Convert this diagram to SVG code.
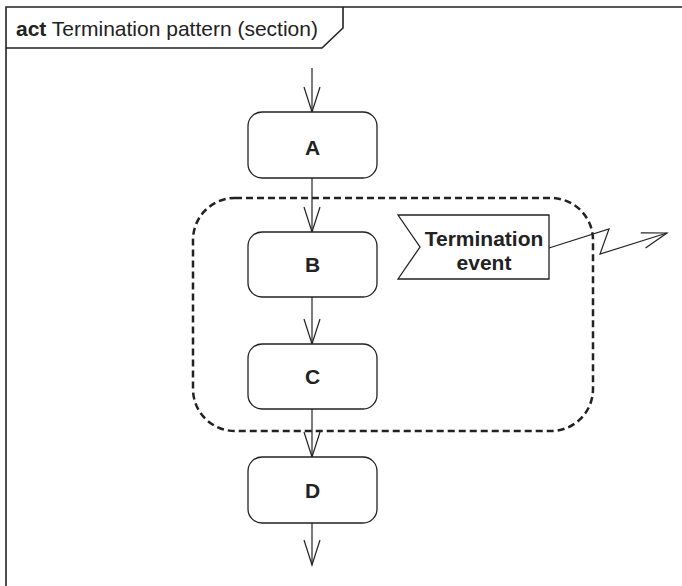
<svg xmlns="http://www.w3.org/2000/svg" width="682" height="586" viewBox="0 0 682 586">
<style>
.frame{fill:none;stroke:#222;stroke-width:1.6}
.node{fill:#fff;stroke:#222;stroke-width:1.3}
.lbl{font-family:"Liberation Sans",Arial,sans-serif;font-weight:bold;font-size:21px;fill:#222;text-anchor:middle}
.sig{font-family:"Liberation Sans",Arial,sans-serif;font-weight:bold;font-size:21px;fill:#222;text-anchor:middle}
.title{font-family:"Liberation Sans",Arial,sans-serif;font-size:21px;fill:#222}
.edge{fill:none;stroke:#222;stroke-width:1.2}
.region{fill:none;stroke:#222;stroke-width:2.5;stroke-dasharray:7 4}
</style>
<defs>
<marker id="open" markerUnits="userSpaceOnUse" markerWidth="30" markerHeight="20" viewBox="-27 -10 30 20" refX="0" refY="0" orient="auto" overflow="visible">
<path d="M-25,-8 L0,0 L-25,8" fill="none" stroke="#222" stroke-width="1.2"/>
</marker>
</defs>
<rect width="682" height="586" fill="#fff"/>
<g id="frame">
<path class="frame" d="M6,586 V7 H682"/>
<path class="frame" d="M6,48 H322 L343,28 V7"/>
<text class="title" x="16" y="36"><tspan font-weight="bold">act</tspan> Termination pattern (section)</text>
</g>
<g id="interruptible-region">
<rect class="region" x="193" y="198" width="400" height="233" rx="42" ry="42"/>
</g>
<g id="connectors">
<line class="edge" x1="312" y1="68" x2="312" y2="112" marker-end="url(#open)"/>
<line class="edge" x1="312" y1="178" x2="312" y2="232" marker-end="url(#open)"/>
<line class="edge" x1="312" y1="297" x2="312" y2="344" marker-end="url(#open)"/>
<line class="edge" x1="312" y1="409" x2="312" y2="457" marker-end="url(#open)"/>
<line class="edge" x1="312" y1="523" x2="312" y2="565" marker-end="url(#open)"/>
<polyline class="edge" points="549,248 609,229 600,254 667,233" marker-end="url(#open)"/>
</g>
<g id="A">
<rect class="node" x="248" y="112" width="129" height="66" rx="14" ry="14"/>
<text class="lbl" x="312.5" y="155">A</text>
</g>
<g id="B">
<rect class="node" x="248" y="232" width="129" height="65" rx="14" ry="14"/>
<text class="lbl" x="312.5" y="272">B</text>
</g>
<g id="C">
<rect class="node" x="248" y="344" width="129" height="65" rx="14" ry="14"/>
<text class="lbl" x="312.5" y="384">C</text>
</g>
<g id="D">
<rect class="node" x="248" y="457" width="129" height="66" rx="14" ry="14"/>
<text class="lbl" x="312.5" y="498">D</text>
</g>
<g id="termination-event">
<polygon class="node" points="398,215 549,215 549,279 398,279 420,247"/>
<text class="sig" x="484" y="246">Termination</text>
<text class="sig" x="484" y="270">event</text>
</g>
</svg>
